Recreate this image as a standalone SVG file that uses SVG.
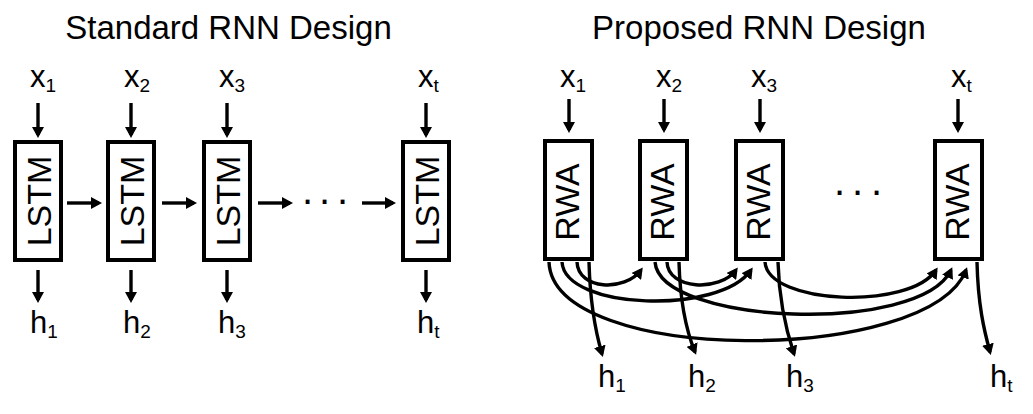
<svg xmlns="http://www.w3.org/2000/svg" width="1033" height="414" viewBox="0 0 1033 414">
<style>
  text { font-family: "Liberation Sans", Arial, sans-serif; fill: #000; }
  .title { font-size: 33px; text-anchor: middle; }
  .lbl { font-size: 31px; }
  .sub { font-size: 19px; }
  .cell { font-size: 34px; text-anchor: middle; }
  .dots { font-size: 40px; }
  .box { fill: #fff; stroke: #000; stroke-width: 4; }
  .ln { fill: none; stroke: #000; stroke-width: 3.4; marker-end: url(#ah); }
</style>
<defs>
  <marker id="ah" viewBox="0 0 11 12" refX="8" refY="6" markerWidth="11" markerHeight="12" markerUnits="userSpaceOnUse" orient="auto">
    <path d="M0,0 L11,6 L0,12 z" fill="#000"/>
  </marker>
</defs>
<rect width="1033" height="414" fill="#fff"/>

<text class="title" x="228.5" y="39">Standard RNN Design</text>
<text class="title" x="759" y="39">Proposed RNN Design</text>

<!-- Standard RNN nodes -->
<g id="lstm1">
  <rect class="box" x="15" y="142" width="46" height="118"/>
  <text class="cell" transform="translate(50.5,201) rotate(-90)">LSTM</text>
</g>
<g id="lstm2">
  <rect class="box" x="108" y="142" width="46" height="118"/>
  <text class="cell" transform="translate(143.5,201) rotate(-90)">LSTM</text>
</g>
<g id="lstm3">
  <rect class="box" x="204" y="142" width="46" height="118"/>
  <text class="cell" transform="translate(239.5,201) rotate(-90)">LSTM</text>
</g>
<g id="lstmt">
  <rect class="box" x="403" y="142" width="46" height="118"/>
  <text class="cell" transform="translate(438.5,201) rotate(-90)">LSTM</text>
</g>

<g id="lx1"><text class="lbl" x="30" y="87">x<tspan class="sub" dy="5">1</tspan></text></g>
<g id="lx2"><text class="lbl" x="124" y="87">x<tspan class="sub" dy="5">2</tspan></text></g>
<g id="lx3"><text class="lbl" x="219" y="87">x<tspan class="sub" dy="5">3</tspan></text></g>
<g id="lxt"><text class="lbl" x="418" y="87">x<tspan class="sub" dy="5">t</tspan></text></g>
<g id="lh1"><text class="lbl" x="30" y="333">h<tspan class="sub" dy="5">1</tspan></text></g>
<g id="lh2"><text class="lbl" x="123" y="333">h<tspan class="sub" dy="5">2</tspan></text></g>
<g id="lh3"><text class="lbl" x="218" y="333">h<tspan class="sub" dy="5">3</tspan></text></g>
<g id="lht"><text class="lbl" x="417" y="333">h<tspan class="sub" dy="5">t</tspan></text></g>
<text class="dots" x="302 319 337" y="204">...</text>

<!-- Proposed RNN nodes -->
<g id="rwa1">
  <rect class="box" x="545" y="141" width="47" height="118"/>
  <text class="cell" transform="translate(579,202) rotate(-90)">RWA</text>
</g>
<g id="rwa2">
  <rect class="box" x="640" y="141" width="47" height="118"/>
  <text class="cell" transform="translate(674,202) rotate(-90)">RWA</text>
</g>
<g id="rwa3">
  <rect class="box" x="736" y="141" width="47" height="118"/>
  <text class="cell" transform="translate(770,202) rotate(-90)">RWA</text>
</g>
<g id="rwat">
  <rect class="box" x="935" y="141" width="47" height="118"/>
  <text class="cell" transform="translate(969,202) rotate(-90)">RWA</text>
</g>

<g id="rx1"><text class="lbl" x="560" y="87">x<tspan class="sub" dy="5">1</tspan></text></g>
<g id="rx2"><text class="lbl" x="656" y="87">x<tspan class="sub" dy="5">2</tspan></text></g>
<g id="rx3"><text class="lbl" x="751" y="87">x<tspan class="sub" dy="5">3</tspan></text></g>
<g id="rxt"><text class="lbl" x="951" y="87">x<tspan class="sub" dy="5">t</tspan></text></g>
<g id="rh1"><text class="lbl" x="598" y="387">h<tspan class="sub" dy="5">1</tspan></text></g>
<g id="rh2"><text class="lbl" x="688" y="387">h<tspan class="sub" dy="5">2</tspan></text></g>
<g id="rh3"><text class="lbl" x="786" y="387">h<tspan class="sub" dy="5">3</tspan></text></g>
<g id="rht"><text class="lbl" x="990" y="387">h<tspan class="sub" dy="5">t</tspan></text></g>
<text class="dots" x="834 852 871" y="195">...</text>

<!-- Connectors -->
<g id="connectors">
  <!-- left inputs -->
  <path class="ln" d="M38,103 L38,135"/>
  <path class="ln" d="M131,103 L131,135"/>
  <path class="ln" d="M227,103 L227,135"/>
  <path class="ln" d="M426,103 L426,135"/>
  <!-- left outputs -->
  <path class="ln" d="M38,270 L38,300"/>
  <path class="ln" d="M131,270 L131,300"/>
  <path class="ln" d="M227,270 L227,300"/>
  <path class="ln" d="M426,270 L426,300"/>
  <!-- left recurrence -->
  <path class="ln" d="M67,203 L99,203"/>
  <path class="ln" d="M162,203 L194,203"/>
  <path class="ln" d="M258,203 L290,203"/>
  <path class="ln" d="M362,203 L393,203"/>
  <!-- right inputs -->
  <path class="ln" d="M569,99 L569,130"/>
  <path class="ln" d="M664,99 L664,130"/>
  <path class="ln" d="M760,99 L760,130"/>
  <path class="ln" d="M958,99 L958,130"/>
  <!-- right outputs -->
  <path class="ln" d="M589,262 C590,300 595,330 602,354"/>
  <path class="ln" d="M679,262 C680,300 686,330 695,352"/>
  <path class="ln" d="M778,262 C779,300 786,330 794,354"/>
  <path class="ln" d="M977,262 C978,305 984,330 990,352"/>
  <!-- right weighted-average connections -->
  <path class="ln" d="M577,262 C578,290 625,292 641,270"/>
  <path class="ln" d="M667,262 C668,290 720,292 736,270"/>
  <path class="ln" d="M562,262 C565,310 720,315 751,270"/>
  <path class="ln" d="M765,262 C768,305 910,310 936,270"/>
  <path class="ln" d="M655,262 C660,325 920,335 951,270"/>
  <path class="ln" d="M549,262 C553,366 930,365 966,270"/>
</g>
</svg>
